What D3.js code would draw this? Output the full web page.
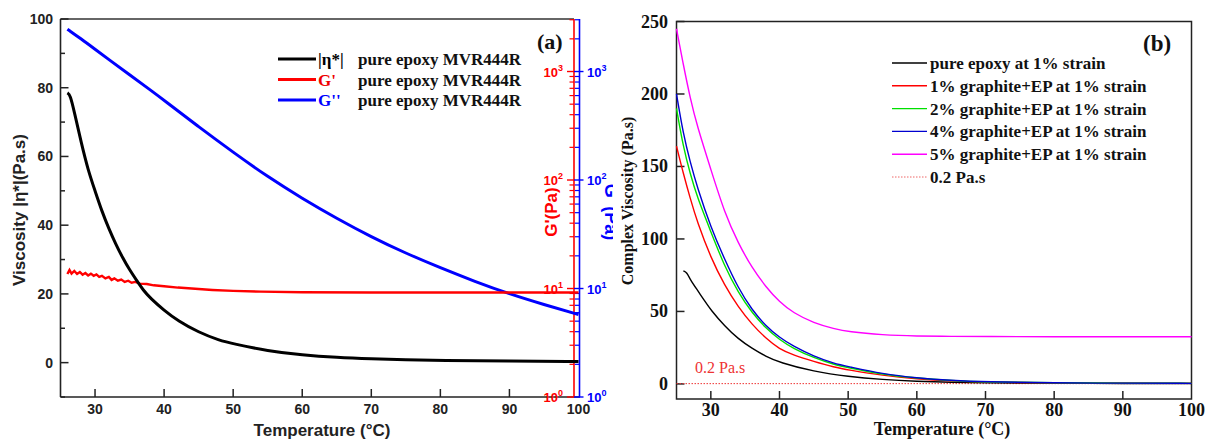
<!DOCTYPE html>
<html>
<head>
<meta charset="utf-8">
<script src="https://cdn.jsdelivr.net/npm/d3@7"></script>
<style>
  body { margin: 0; background: #fff; }
  svg { display: block; }
</style>
</head>
<body>
<div id="chart"></div>
<script>
var width = 1215, height = 441;

// ---- panel (a) data ----
var etaTemp = [26, 26.4, 27, 28, 29, 30, 31, 32, 33, 34, 35, 36, 37, 38, 40, 42, 45, 48, 50, 55, 60, 65, 70, 75, 80, 90, 100];
var etaVals = [78.5, 78, 73, 64, 56, 50, 44, 39, 34.5, 30.5, 27, 24, 21, 18.8, 15.2, 12.2, 8.8, 6.5, 5.5, 3.4, 2.2, 1.5, 1.1, 0.8, 0.6, 0.45, 0.35];

var gpTemp = [26, 26.3, 26.6, 27, 27.4, 27.8, 28.2, 28.6, 29, 29.4, 29.8, 30.2, 30.6, 31, 31.5, 32, 32.4, 32.8, 33.3, 33.8, 34.3, 34.8, 35.3, 35.8, 36.5, 37.5, 38.5, 40, 42, 44, 47, 50, 54, 60, 70, 80, 90, 100];
var gpVals = [13.6, 14.8, 13.7, 14.5, 13.6, 14.2, 13.4, 13.9, 13.2, 13.7, 13.1, 13.5, 12.8, 13.1, 12.4, 12.8, 12.0, 12.4, 11.8, 12.1, 11.5, 11.8, 11.3, 11.5, 11.1, 11.0, 10.7, 10.5, 10.2, 10.0, 9.7, 9.5, 9.35, 9.25, 9.2, 9.2, 9.2, 9.2];

var gppTemp = [26, 28, 30, 32, 35, 38, 40, 45, 50, 55, 60, 65, 70, 75, 80, 85, 90, 95, 100];
var gppVals = [2455, 1995, 1603, 1288, 933, 676, 543, 309, 180, 107, 67.6, 44.2, 29.9, 21.1, 15.5, 11.6, 8.9, 7.1, 5.75];

var legendA = [
  { sym: "|\u03b7*|", color: "#000", line: "#000" },
  { sym: "G'", color: "#e00", line: "#f00" },
  { sym: "G''", color: "#00f", line: "#00f" }
];

// ---- panel (b) data ----
var pureTemp = [26, 26.5, 27, 28, 29, 30, 32, 34, 36, 38, 40, 45, 50, 55, 60, 65, 70, 80, 90, 100];
var pureVals = [78, 77, 72, 65, 58, 51, 40, 31, 24.5, 19, 14.8, 8.5, 5, 3, 1.8, 1.1, 0.7, 0.4, 0.3, 0.3];

var tempB = [25, 26, 27, 28, 30, 32, 34, 36, 38, 40, 42, 45, 48, 50, 55, 60, 65, 70, 80, 90, 100];
var g1Vals = [164, 145, 128, 112, 87, 68, 53, 41, 31.5, 24, 20, 15.5, 11.5, 9.7, 5.8, 3.4, 2, 1.2, 0.6, 0.4, 0.35];
var g2Vals = [190, 163, 145, 129, 105, 81, 63, 49, 38.5, 30.5, 24.5, 18, 13.3, 11.3, 6.4, 3.9, 2.3, 1.3, 0.7, 0.5, 0.4];
var g4Vals = [200, 172, 153, 136, 108, 86, 66, 51, 40, 32, 26, 19, 14, 12, 6.9, 4.1, 2.4, 1.4, 0.7, 0.5, 0.4];
var g5Vals = [245, 220, 197, 178, 148, 118, 97, 80, 67, 56.5, 49, 42, 38, 36, 33.8, 33, 32.8, 32.7, 32.5, 32.5, 32.5];
var refLevel = 0.2;

var seriesB = [
  { name: "pure epoxy at 1% strain", color: "#000", t: pureTemp, v: pureVals },
  { name: "1% graphite+EP at 1% strain", color: "#f00", t: tempB, v: g1Vals },
  { name: "2% graphite+EP at 1% strain", color: "#00e000", t: tempB, v: g2Vals },
  { name: "4% graphite+EP at 1% strain", color: "#0000d0", t: tempB, v: g4Vals },
  { name: "5% graphite+EP at 1% strain", color: "#f0f", t: tempB, v: g5Vals }
];

var svg = d3.select("#chart").append("svg").attr("width", width).attr("height", height);
svg.append("rect").attr("width", width).attr("height", height).attr("fill", "#fff");

var sans = "'Liberation Sans', Arial, sans-serif";
var serif = "'Liberation Serif', 'Times New Roman', serif";

function zip(t, v) { return t.map(function(d, i) { return [d, v[i]]; }); }

// ================= panel (a) =================
svg.append("clipPath").attr("id", "clipA").append("rect")
    .attr("x", 0).attr("y", 0).attr("width", 613).attr("height", height);
var ga = svg.append("g").attr("clip-path", "url(#clipA)");

var xA = d3.scaleLinear().domain([25, 100]).range([60.5, 578.5]);
var yA = d3.scaleLinear().domain([-10, 100]).range([397, 19]);
var yLog = d3.scaleLog().domain([1, Math.pow(10, 3.484)]).range([397, 19]);

// frame: top + left
ga.append("line").attr("x1", 60.5).attr("x2", 574).attr("y1", 19).attr("y2", 19)
    .attr("stroke", "#333").attr("stroke-width", 1.6);
ga.append("line").attr("x1", 60.5).attr("x2", 60.5).attr("y1", 19).attr("y2", 397)
    .attr("stroke", "#222").attr("stroke-width", 1.6);

// left axis ticks
var leftMajor = [0, 20, 40, 60, 80, 100];
var leftMinor = [-10, 10, 30, 50, 70, 90];
ga.selectAll(".lmaj").data(leftMajor).enter().append("line")
    .attr("x1", 60.5).attr("x2", 68.5)
    .attr("y1", function(d) { return yA(d); }).attr("y2", function(d) { return yA(d); })
    .attr("stroke", "#222").attr("stroke-width", 1.5);
ga.selectAll(".lmin").data(leftMinor).enter().append("line")
    .attr("x1", 60.5).attr("x2", 65)
    .attr("y1", function(d) { return yA(d); }).attr("y2", function(d) { return yA(d); })
    .attr("stroke", "#222").attr("stroke-width", 1.5);
ga.selectAll(".llab").data(leftMajor).enter().append("text")
    .attr("x", 53).attr("y", function(d) { return yA(d) + 5; })
    .attr("text-anchor", "end").attr("font-family", sans).attr("font-weight", "bold")
    .attr("font-size", 14).attr("fill", "#222").text(function(d) { return d; });

ga.append("text")
    .attr("transform", "translate(25,210) rotate(-90)")
    .attr("text-anchor", "middle").attr("font-family", sans).attr("font-weight", "bold")
    .attr("font-size", 17).attr("fill", "#222").text("Viscosity |\u03b7*|(Pa.s)");

// bottom axis
var xTicks = [30, 40, 50, 60, 70, 80, 90, 100];
ga.append("line").attr("x1", 60.5).attr("x2", 580).attr("y1", 397).attr("y2", 397)
    .attr("stroke", "#222").attr("stroke-width", 1.6);
ga.selectAll(".xt").data(xTicks.slice(0, 7)).enter().append("line")
    .attr("x1", function(d) { return xA(d); }).attr("x2", function(d) { return xA(d); })
    .attr("y1", 397).attr("y2", 389).attr("stroke", "#222").attr("stroke-width", 1.5);
ga.selectAll(".xl").data(xTicks).enter().append("text")
    .attr("x", function(d) { return xA(d); }).attr("y", 414)
    .attr("text-anchor", "middle").attr("font-family", sans).attr("font-weight", "bold")
    .attr("font-size", 14).attr("fill", "#222").text(function(d) { return d; });
ga.append("text").attr("x", 322).attr("y", 436)
    .attr("text-anchor", "middle").attr("font-family", sans).attr("font-weight", "bold")
    .attr("font-size", 17).attr("fill", "#222").text("Temperature (\u00b0C)");

// log axes (red G', blue G'')
var redX = 574, blueX = 579.5;
var logMajor = [1, 10, 100, 1000];
var logMinor = [];
logMajor.forEach(function(b) {
  for (var k = 2; k <= 9; k++) { if (b * k <= yLog.domain()[1]) logMinor.push(b * k); }
});

ga.append("line").attr("x1", redX).attr("x2", redX).attr("y1", 19).attr("y2", 397)
    .attr("stroke", "#f00").attr("stroke-width", 1.6);
ga.append("line").attr("x1", blueX).attr("x2", blueX).attr("y1", 19).attr("y2", 397)
    .attr("stroke", "#00f").attr("stroke-width", 1.6);

ga.selectAll(".rmaj").data(logMajor).enter().append("line")
    .attr("x1", redX - 7).attr("x2", redX)
    .attr("y1", function(d) { return yLog(d); }).attr("y2", function(d) { return yLog(d); })
    .attr("stroke", "#f00").attr("stroke-width", 1.4);
ga.selectAll(".rmin").data(logMinor).enter().append("line")
    .attr("x1", redX - 4.5).attr("x2", redX)
    .attr("y1", function(d) { return yLog(d); }).attr("y2", function(d) { return yLog(d); })
    .attr("stroke", "#f00").attr("stroke-width", 1.2);
ga.selectAll(".bmaj").data(logMajor).enter().append("line")
    .attr("x1", redX).attr("x2", blueX + 4)
    .attr("y1", function(d) { return yLog(d); }).attr("y2", function(d) { return yLog(d); })
    .attr("stroke", "#00f").attr("stroke-width", 1.4);
ga.selectAll(".bmin").data(logMinor).enter().append("line")
    .attr("x1", redX + 0.8).attr("x2", blueX)
    .attr("y1", function(d) { return yLog(d); }).attr("y2", function(d) { return yLog(d); })
    .attr("stroke", "#00f").attr("stroke-width", 1.2);

function powLabel(sel, x, anchor, color) {
  sel.each(function(d) {
    var t = d3.select(this)
        .attr("x", x).attr("y", yLog(d) + 5)
        .attr("text-anchor", anchor).attr("font-family", sans).attr("font-weight", "bold")
        .attr("font-size", 13).attr("fill", color);
    t.append("tspan").text("10");
    t.append("tspan").attr("dy", -6).attr("font-size", 9).text(Math.round(Math.log10(d)));
  });
}
ga.selectAll(".rlab").data(logMajor).enter().append("text").call(powLabel, 563, "end", "#f00");
ga.selectAll(".blab").data(logMajor).enter().append("text").call(powLabel, 587, "start", "#00f");

ga.append("text")
    .attr("transform", "translate(557,212) rotate(-90)")
    .attr("text-anchor", "middle").attr("font-family", sans).attr("font-weight", "bold")
    .attr("font-size", 17).attr("fill", "#f00").text("G'(Pa)");
ga.append("text")
    .attr("transform", "translate(605,212) rotate(90)")
    .attr("text-anchor", "middle").attr("font-family", sans).attr("font-weight", "bold")
    .attr("font-size", 18).attr("fill", "#00f").text("G''(Pa)");

// curves
var lineEta = d3.line().curve(d3.curveBasis)
    .x(function(d) { return xA(d[0]); }).y(function(d) { return yA(d[1]); });
var lineLog = d3.line().curve(d3.curveBasis)
    .x(function(d) { return xA(d[0]); }).y(function(d) { return yLog(d[1]); });

ga.append("path").datum(zip(gppTemp, gppVals)).attr("d", lineLog)
    .attr("fill", "none").attr("stroke", "#00f").attr("stroke-width", 3);
ga.append("path").datum(zip(gpTemp, gpVals)).attr("d", d3.line()
      .x(function(d) { return xA(d[0]); }).y(function(d) { return yLog(d[1]); }))
    .attr("fill", "none").attr("stroke", "#f00").attr("stroke-width", 2.4);
ga.append("path").datum(zip(etaTemp, etaVals)).attr("d", lineEta)
    .attr("fill", "none").attr("stroke", "#000").attr("stroke-width", 3);

// legend (a)
var legA = ga.selectAll(".lega").data(legendA).enter().append("g")
    .attr("transform", function(d, i) { return "translate(278," + (59 + i * 20.5) + ")"; });
legA.append("line").attr("x1", 0).attr("x2", 38).attr("y1", 0).attr("y2", 0)
    .attr("stroke", function(d) { return d.line; }).attr("stroke-width", 3);
legA.append("text").attr("x", 40).attr("y", 6)
    .attr("font-family", serif).attr("font-weight", "bold").attr("font-size", 17)
    .attr("fill", function(d) { return d.color; }).text(function(d) { return d.sym; });
legA.append("text").attr("x", 80).attr("y", 6)
    .attr("font-family", serif).attr("font-weight", "bold").attr("font-size", 17)
    .attr("fill", "#111").text("pure epoxy MVR444R");
ga.append("text").attr("x", 537).attr("y", 49)
    .attr("font-family", serif).attr("font-weight", "bold").attr("font-size", 22)
    .attr("fill", "#111").text("(a)");

// ================= panel (b) =================
var gb = svg.append("g");
var xB = d3.scaleLinear().domain([25, 100]).range([676.5, 1191.5]);
var yB = d3.scaleLinear().domain([-10.4, 250]).range([399, 21.5]);

gb.append("rect").attr("x", 676.5).attr("y", 21.5).attr("width", 515).attr("height", 377.5)
    .attr("fill", "none").attr("stroke", "#222").attr("stroke-width", 1.5);

var yBTicks = [0, 50, 100, 150, 200, 250];
gb.selectAll(".byt").data(yBTicks).enter().append("line")
    .attr("x1", 676.5).attr("x2", 684.5)
    .attr("y1", function(d) { return yB(d); }).attr("y2", function(d) { return yB(d); })
    .attr("stroke", "#222").attr("stroke-width", 1.5);
gb.selectAll(".byl").data(yBTicks).enter().append("text")
    .attr("x", 668).attr("y", function(d) { return yB(d) + 6; })
    .attr("text-anchor", "end").attr("font-family", serif).attr("font-weight", "bold")
    .attr("font-size", 18).attr("fill", "#111").text(function(d) { return d; });
gb.append("text")
    .attr("transform", "translate(633,201) rotate(-90)")
    .attr("text-anchor", "middle").attr("font-family", serif).attr("font-weight", "bold")
    .attr("font-size", 16).attr("fill", "#111").text("Complex Viscosity (Pa.s)");

gb.selectAll(".bxt").data(xTicks.slice(0, 7)).enter().append("line")
    .attr("x1", function(d) { return xB(d); }).attr("x2", function(d) { return xB(d); })
    .attr("y1", 399).attr("y2", 391).attr("stroke", "#222").attr("stroke-width", 1.5);
gb.selectAll(".bxl").data(xTicks).enter().append("text")
    .attr("x", function(d) { return xB(d); }).attr("y", 416)
    .attr("text-anchor", "middle").attr("font-family", serif).attr("font-weight", "bold")
    .attr("font-size", 18).attr("fill", "#111").text(function(d) { return d; });
gb.append("text").attr("x", 942).attr("y", 435)
    .attr("text-anchor", "middle").attr("font-family", serif).attr("font-weight", "bold")
    .attr("font-size", 18).attr("fill", "#111").text("Temperature (\u00b0C)");

// reference line
gb.append("line").attr("x1", xB(25)).attr("x2", xB(100))
    .attr("y1", yB(refLevel)).attr("y2", yB(refLevel))
    .attr("stroke", "#e33").attr("stroke-width", 1).attr("stroke-dasharray", "1.5,1.5");
gb.append("text").attr("x", 695).attr("y", 373)
    .attr("font-family", serif).attr("font-size", 16).attr("fill", "#e33").text("0.2 Pa.s");

var lineB = d3.line().curve(d3.curveBasis)
    .x(function(d) { return xB(d[0]); }).y(function(d) { return yB(d[1]); });
gb.selectAll(".sb").data(seriesB).enter().append("path")
    .attr("d", function(d) { return lineB(zip(d.t, d.v)); })
    .attr("fill", "none").attr("stroke", function(d) { return d.color; }).attr("stroke-width", 1.4);

// legend (b)
var legItems = seriesB.map(function(d) { return { name: d.name, color: d.color, dash: null }; })
    .concat([{ name: "0.2 Pa.s", color: "#e66", dash: "1.5,1.5" }]);
var legB = gb.selectAll(".legb").data(legItems).enter().append("g")
    .attr("transform", function(d, i) { return "translate(892," + (63 + i * 22.8) + ")"; });
legB.append("line").attr("x1", 0).attr("x2", 35).attr("y1", 0).attr("y2", 0)
    .attr("stroke", function(d) { return d.color; }).attr("stroke-width", function(d) { return d.dash ? 1 : 1.4; })
    .attr("stroke-dasharray", function(d) { return d.dash; });
legB.append("text").attr("x", 38).attr("y", 6)
    .attr("font-family", serif).attr("font-weight", "bold").attr("font-size", 17)
    .attr("fill", "#111").text(function(d) { return d.name; });
gb.append("text").attr("x", 1143).attr("y", 51)
    .attr("font-family", serif).attr("font-weight", "bold").attr("font-size", 23)
    .attr("fill", "#111").text("(b)");
</script>
</body>
</html>
